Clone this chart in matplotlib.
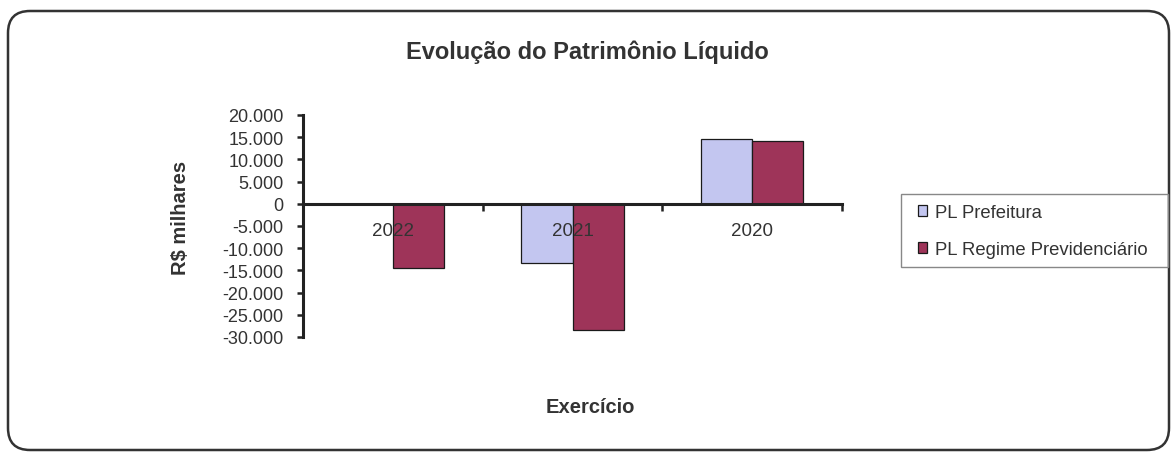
import matplotlib
matplotlib.use('Agg')
import matplotlib.pyplot as plt
import numpy as np
from matplotlib.patches import FancyBboxPatch, Rectangle
from matplotlib.ticker import FuncFormatter

plt.rcParams['font.family'] = ['Liberation Sans', 'DejaVu Sans']

anos = ['2022', '2021', '2020']
pl_prefeitura = [0, -13300, 14500]
pl_regime = [-14400, -28400, 14200]
series_nomes = ['PL Prefeitura', 'PL Regime Previdenciário']
cores = ['#c3c6f0', '#9e3459']

W, H = 1174, 456
fig = plt.figure(figsize=(W / 100, H / 100), dpi=100)
fig.patch.set_facecolor('white')

# moldura arredondada em volta do grafico
moldura = FancyBboxPatch((0.08, 0.05), 11.61, 4.39,
                         boxstyle='round,pad=0,rounding_size=0.22',
                         transform=fig.dpi_scale_trans, fill=False,
                         edgecolor='#333333', linewidth=1.8)
fig.patches.append(moldura)

ax = fig.add_axes([303 / W, 1 - 338 / H, (842 - 303) / W, (338 - 116) / H])

x = np.arange(len(anos))
w = 0.285
ax.bar(x - w / 2, pl_prefeitura, w, color=cores[0], edgecolor='#1a1a1a',
       linewidth=0.9, label=series_nomes[0])
ax.bar(x + w / 2, pl_regime, w, color=cores[1], edgecolor='#1a1a1a',
       linewidth=0.9, label=series_nomes[1])

ax.set_xlim(-0.5, 2.5)
ax.set_ylim(-30000, 20000)
ax.set_yticks(np.arange(-30000, 20001, 5000))
ax.yaxis.set_major_formatter(FuncFormatter(lambda v, p: f'{v:,.0f}'.replace(',', '.')))

for s in ['top', 'right']:
    ax.spines[s].set_visible(False)
ax.spines['bottom'].set_position(('data', 0))
ax.spines['bottom'].set_linewidth(2.2)
ax.spines['left'].set_linewidth(2.2)
ax.spines['bottom'].set_color('#222222')
ax.spines['left'].set_color('#222222')

ax.set_xticks([0.5, 1.5, 2.5])
ax.set_xticklabels([])
ax.set_xticks(x, minor=True)
ax.set_xticklabels(anos, minor=True)
ax.tick_params(axis='x', which='major', direction='out', length=5, width=1.8, color='#222222')
ax.tick_params(axis='x', which='minor', length=0, pad=13, labelsize=13.5, labelcolor='#333333')
ax.tick_params(axis='y', direction='out', length=4, width=1.8, color='#222222',
               labelsize=13, labelcolor='#333333', pad=10)

fig.text(587 / W, 1 - 52 / H, 'Evolução do Patrimônio Líquido', ha='center', va='center',
         fontsize=17, fontweight='bold', color='#333333')
fig.text(590 / W, 1 - 408 / H, 'Exercício', ha='center', va='center',
         fontsize=14.5, fontweight='bold', color='#333333')
fig.text(180 / W, 1 - 218 / H, 'R$ milhares', ha='center', va='center', rotation=90,
         fontsize=14.5, fontweight='bold', color='#333333')

# caixa da legenda desenhada a parte
fig.patches.append(Rectangle((901 / W, 1 - 268 / H), (1168 - 901) / W, (268 - 195) / H,
                             transform=fig.transFigure, fill=False,
                             edgecolor='#888888', linewidth=1.0))
leg = ax.legend(loc='center left', bbox_to_anchor=(918 / W, 1 - 232 / H),
                bbox_transform=fig.transFigure, fontsize=13.3, frameon=False,
                handlelength=0.5, handleheight=0.5, handletextpad=0.4,
                borderpad=0, labelspacing=1.1, borderaxespad=0)
for t in leg.get_texts():
    t.set_color('#333333')

fig.savefig('out.png', dpi=100, facecolor='white')
